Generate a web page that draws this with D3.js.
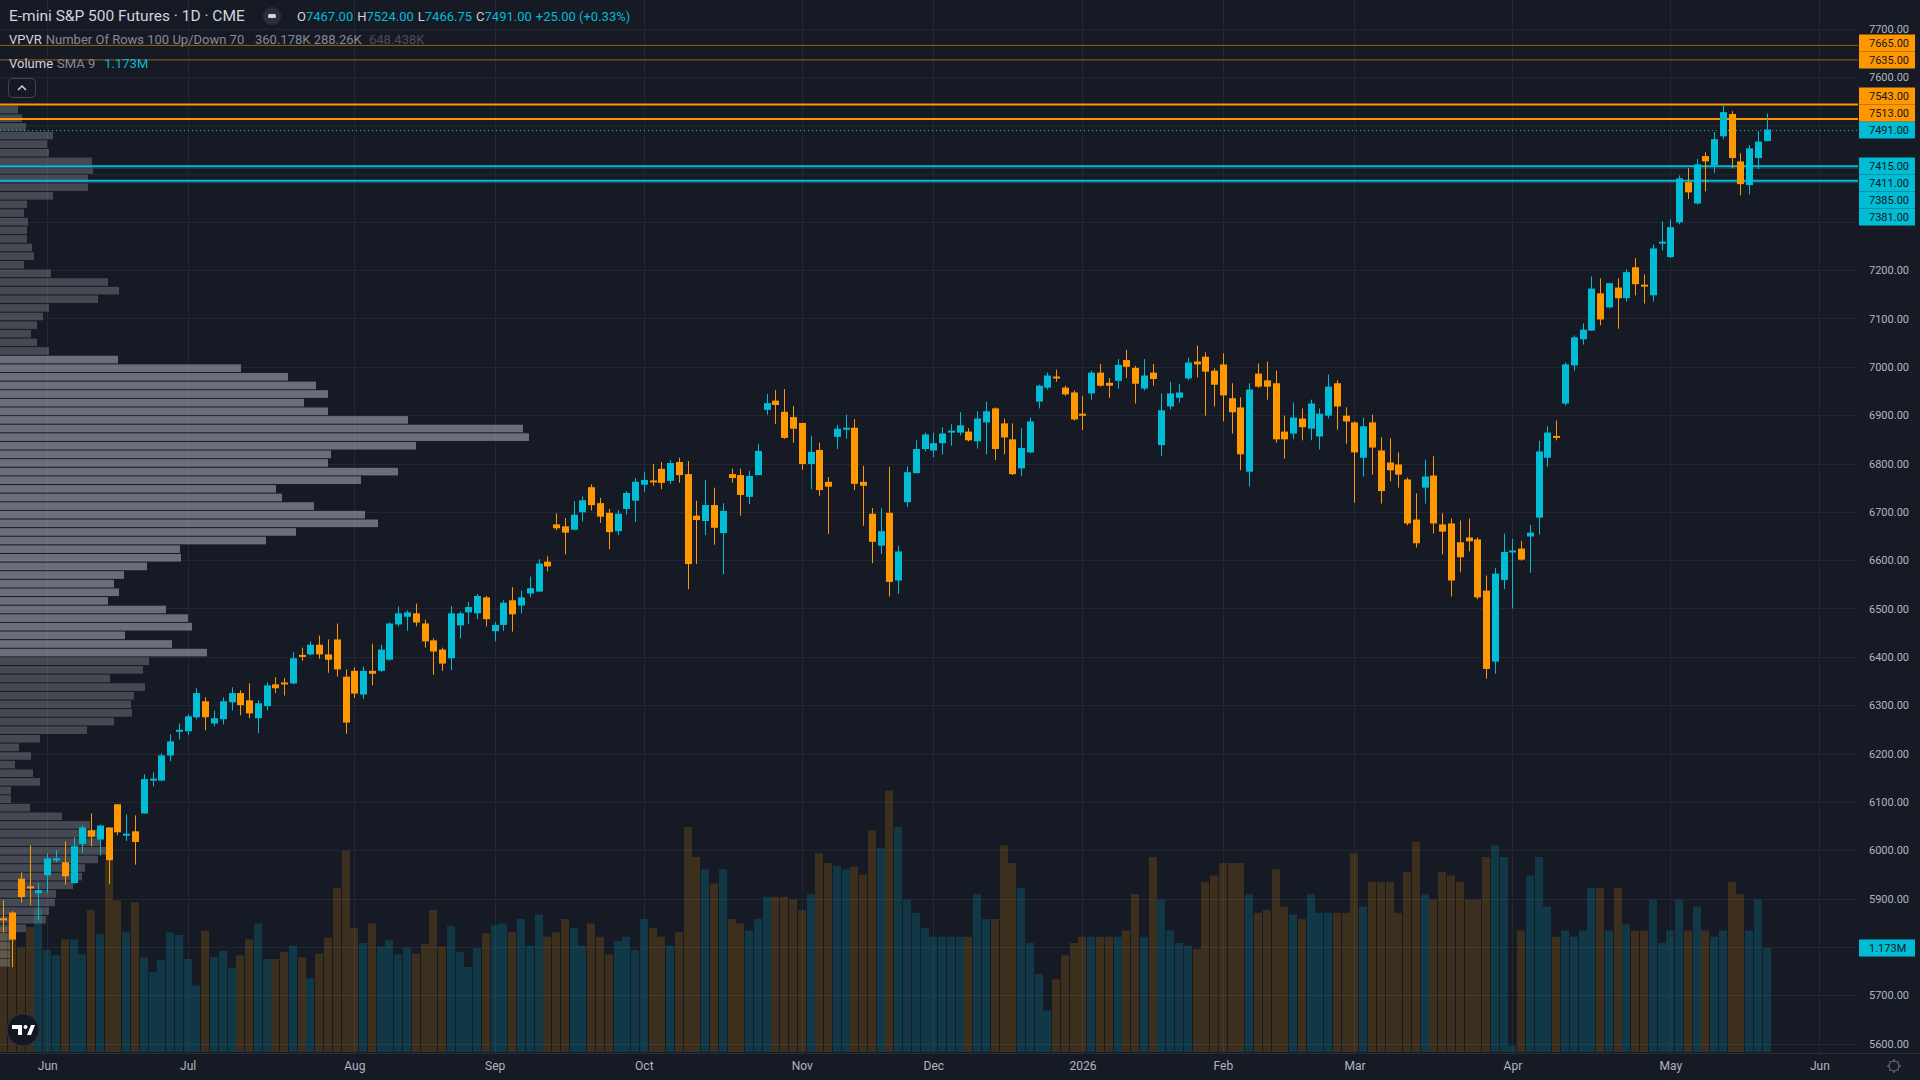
<!DOCTYPE html>
<html>
<head>
<meta charset="utf-8">
<script src="https://cdn.jsdelivr.net/npm/d3@7"></script>
<style>
html, body { margin: 0; padding: 0; background: #161a25; overflow: hidden; }
svg { display: block; }
text { font-family: Roboto, "Noto Sans", sans-serif; }
</style>
</head>
<body>
<div id="chart"></div>
<script>
// ---- data (daily bars, oldest first) ----
const opens = [5859,5871,5941,5925,5911,5948,5981,5975,5932,6013,6041,6022,6047,6095,6032,6039,6076,6146,6144,6196,6247,6246,6275,6308,6262,6271,6306,6325,6310,6273,6298,6343,6347,6345,6404,6405,6425,6405,6436,6359,6371,6322,6371,6371,6394,6467,6483,6490,6469,6434,6415,6397,6465,6492,6490,6523,6453,6466,6517,6506,6531,6535,6597,6674,6670,6663,6699,6751,6718,6698,6660,6706,6723,6756,6765,6789,6764,6803,6778,6692,6681,6714,6656,6778,6776,6731,6776,6911,6930,6907,6896,6884,6799,6828,6762,6855,6873,6874,6762,6696,6630,6698,6558,6720,6780,6830,6827,6842,6866,6864,6866,6846,6885,6914,6883,6850,6790,6823,6928,6957,6980,6957,6947,6903,6945,6988,6967,6971,7014,6998,6955,6988,6838,6918,6936,6976,7011,7021,6992,7005,6935,6916,6783,6986,6972,6966,6866,6862,6893,6872,6856,6899,6966,6899,6885,6812,6885,6827,6802,6798,6767,6684,6750,6775,6674,6676,6637,6647,6643,6537,6390,6559,6618,6624,6649,6688,6812,6857,6924,7003,7057,7075,7152,7123,7164,7142,7206,7170,7148,7257,7227,7299,7382,7338,7436,7417,7477,7523,7425,7376,7432,7467];
const highs = [5896,5874,5954,6010,5933,5993,6000,6018,6027,6051,6076,6053,6047,6095,6074,6072,6157,6161,6200,6240,6262,6281,6335,6316,6289,6316,6337,6331,6345,6310,6347,6358,6356,6410,6419,6432,6444,6436,6469,6374,6378,6380,6427,6425,6471,6504,6496,6510,6477,6438,6419,6505,6494,6514,6530,6526,6472,6517,6544,6537,6566,6602,6608,6697,6687,6722,6732,6757,6729,6706,6704,6743,6770,6783,6799,6803,6807,6812,6805,6723,6766,6750,6718,6789,6789,6785,6841,6944,6952,6954,6919,6884,6857,6843,6772,6880,6901,6892,6795,6708,6708,6793,6630,6794,6848,6864,6864,6875,6881,6906,6873,6908,6928,6916,6893,6883,6873,6895,6963,6988,6994,6961,6951,6940,6992,7006,6977,7016,7035,7002,7016,7006,6945,6969,6965,7019,7044,7030,6997,7028,6966,6937,6966,7007,7011,6992,6899,6926,6914,6932,6914,6984,6972,6916,6887,6895,6901,6854,6852,6823,6771,6738,6808,6815,6697,6686,6682,6686,6647,6568,6584,6655,6644,6640,6673,6847,6877,6889,7009,7065,7090,7187,7183,7173,7183,7202,7225,7191,7253,7301,7305,7396,7411,7430,7444,7486,7541,7529,7442,7459,7488,7524];
const lows = [5830,5758,5892,5886,5855,5911,5975,5929,5931,5994,6008,5989,5930,6031,6019,5970,6076,6132,6143,6184,6229,6238,6271,6248,6256,6260,6289,6279,6273,6242,6289,6325,6320,6343,6392,6403,6396,6367,6359,6241,6315,6313,6341,6369,6392,6463,6454,6463,6419,6363,6371,6372,6438,6468,6478,6463,6432,6454,6452,6490,6523,6535,6577,6662,6612,6663,6680,6703,6677,6623,6652,6694,6679,6741,6754,6747,6758,6760,6540,6592,6652,6632,6571,6760,6692,6716,6776,6901,6882,6851,6843,6787,6747,6733,6654,6830,6851,6745,6671,6594,6613,6525,6530,6710,6780,6825,6813,6819,6837,6858,6846,6831,6819,6807,6819,6776,6774,6821,6914,6953,6969,6940,6889,6869,6932,6959,6936,6955,6977,6924,6951,6961,6815,6912,6926,6972,6978,6899,6918,6887,6862,6786,6752,6957,6932,6843,6810,6850,6848,6848,6829,6893,6870,6841,6719,6773,6777,6717,6763,6750,6672,6626,6717,6655,6612,6525,6575,6618,6519,6355,6365,6540,6500,6599,6574,6653,6793,6848,6920,6992,7046,7075,7086,7121,7079,7135,7148,7131,7135,7241,7225,7295,7347,7336,7363,7401,7471,7411,7355,7357,7409,7466.75];
const closes = [5857,5815,5903,5923,5917,5983,5983,5946,6008,6047,6028,6051,5979,6037,6034,6017,6147,6148,6196,6225,6249,6277,6325,6275,6273,6308,6325,6300,6283,6304,6341,6335,6346,6397,6402,6425,6405,6394,6374,6264,6324,6371,6365,6415,6469,6490,6492,6471,6432,6411,6386,6490,6490,6503,6526,6478,6466,6512,6488,6523,6542,6593,6587,6666,6657,6694,6724,6714,6690,6658,6696,6739,6762,6766,6763,6760,6801,6776,6592,6683,6714,6667,6702,6770,6735,6774,6826,6925,6921,6853,6872,6799,6824,6745,6752,6872,6874,6758,6754,6638,6660,6555,6618,6782,6830,6860,6842,6862,6868,6879,6848,6893,6908,6830,6854,6778,6832,6887,6961,6982,6978,6943,6891,6901,6988,6961,6961,7004,7000,6965,6982,6975,6910,6945,6947,7009,7005,6990,6963,6941,6906,6819,6953,6959,6959,6850,6850,6895,6875,6924,6903,6959,6918,6887,6823,6877,6833,6743,6786,6777,6676,6635,6773,6676,6659,6558,6606,6639,6523,6375,6572,6617,6620,6601,6657,6825,6864,6855,7005,7061,7077,7162,7098,7173,7142,7196,7171,7169,7245,7259,7289,7390,7361,7419,7425,7471,7527,7432,7378,7452,7466,7491];
// volume in millions of contracts
const volumes = [1.41,1.50,1.18,1.41,1.62,1.15,1.09,1.27,1.27,1.10,1.60,1.33,2.15,1.71,1.35,1.69,1.07,0.90,1.04,1.35,1.32,1.05,0.75,1.37,1.07,1.14,0.95,1.09,1.27,1.45,1.05,1.05,1.13,1.20,1.07,0.83,1.11,1.29,1.85,2.27,1.40,1.23,1.45,1.19,1.26,1.10,1.18,1.11,1.22,1.60,1.19,1.42,1.13,0.96,1.17,1.34,1.43,
  1.45,1.35,1.5,1.2,1.55,1.3,
  1.35,1.5,1.4,1.2,1.45,1.3,1.1,1.25,1.3,1.15,1.5,1.4,1.3,1.2,1.35,
  2.54,2.2,2.06,1.9,2.06,
  1.5,1.45,1.37,1.5,1.75,1.75,1.75,1.72,1.6,
  1.78,2.24,2.13,2.1,2.06,2.09,2.0,2.5,2.3,2.95,2.54,
  1.72,1.57,1.4,1.3,1.3,1.3,1.3,1.3,1.78,1.5,1.5,2.33,2.13,1.85,1.23,
  0.88,0.47,0.82,1.09,1.23,1.3,1.3,1.3,1.3,1.3,1.37,1.78,1.3,2.2,1.72,1.37,1.23,
  1.2,1.16,1.92,1.99,2.13,2.13,2.13,1.78,1.57,1.6,2.06,1.64,1.55,1.5,1.78,1.57,1.57,1.57,1.57,
  2.24,1.64,1.92,1.92,1.92,1.57,2.03,2.37,1.78,1.72,2.03,1.99,1.92,1.72,1.72,2.2,2.33,2.2,0.07,
  1.37,1.99,2.2,1.64,1.3,1.37,1.3,1.37,1.85,1.85,1.37,1.85,1.44,1.37,1.37,1.72,1.23,1.37,1.72,1.37,1.64,1.37,1.3,1.37,1.92,1.78,1.37,1.72,1.173];
// visible-range volume profile, 100 rows from the highest price down (relative volume)
const profileVol = [18,22,26,53,47,49,92,93,88,88,53,27,24,28,27,27,32,34,24,51,108,119,98,49,43,37,31,37,49,118,241,288,316,328,304,328,408,523,529,416,331,328,398,361,276,282,314,365,378,296,266,180,181,147,124,114,119,108,166,188,192,125,172,207,149,143,110,145,134,131,132,114,87,40,19,31,15,33,40,11,11,30,62,90,97,100,106,98,85,82,73,56,55,49,46,26,10,10,10,10];
const monthLabels = ["Jun","Jul","Aug","Sep","Oct","Nov","Dec","2026","Feb","Mar","Apr","May","Jun"];
const monthBars = [5,21,40,56,73,91,106,123,139,154,172,190,207];
const outerResistance = [7665, 7635];
const resistance = [7543, 7513];
const support = [7415, 7385];
const innerSupport = [7411, 7381];
const lastPrice = 7491;
const priceTicks = d3.range(5600, 7701, 100);

// ---- layout ----
const W = 1920, H = 1080;
const plotRight = 1858, plotBottom = 1053;
const upColor = "#00bcd4", downColor = "#ff9800";
const bars = opens.map((o, i) => ({i, o, h: highs[i], l: lows[i], c: closes[i], v: volumes[i]}));

const x = d3.scaleLinear().domain([0, bars.length - 1]).range([3.4, 1766.8]);
const y = d3.scaleLinear().domain([5600, 7700]).range([1043.5, 28.5]);
const yVol = d3.scaleLinear().domain([0, 1.173]).range([1052, 948]);

const svg = d3.select("#chart").append("svg")
    .attr("width", W)
    .attr("height", H);

svg.append("rect").attr("width", W).attr("height", H).attr("fill", "#161a25");

svg.append("clipPath").attr("id", "plot-clip")
  .append("rect").attr("width", plotRight).attr("height", plotBottom);

const plot = svg.append("g").attr("clip-path", "url(#plot-clip)");

// grid
plot.append("g").selectAll("line")
    .data(priceTicks)
    .join("line")
    .attr("x1", 0).attr("x2", plotRight)
    .attr("y1", d => Math.round(y(d)) + 0.5).attr("y2", d => Math.round(y(d)) + 0.5)
    .attr("stroke", "#232733");

plot.append("g").selectAll("line")
    .data(monthBars)
    .join("line")
    .attr("x1", d => Math.round(x(d)) + 0.5).attr("x2", d => Math.round(x(d)) + 0.5)
    .attr("y1", 0).attr("y2", plotBottom)
    .attr("stroke", "#232733");

// volume
const isUp = d => d.c >= d.o;
plot.append("g").selectAll("rect")
    .data(bars)
    .join("rect")
    .attr("x", d => Math.round(x(d.i)) - 4)
    .attr("width", 8)
    .attr("y", d => yVol(d.v))
    .attr("height", d => yVol(0) - yVol(d.v))
    .attr("fill", d => isUp(d) ? upColor : downColor)
    .attr("fill-opacity", d => isUp(d) ? 0.19 : 0.17);

// volume profile (visible range)
const pHigh = d3.max(highs), pLow = d3.min(lows);
const rowSize = (pHigh - pLow) / profileVol.length;
const poc = d3.maxIndex(profileVol);
const total = d3.sum(profileVol);
let vaTop = poc, vaBot = poc, vaSum = profileVol[poc];
while (vaSum < total * 0.7) {
    const up = vaTop > 0 ? profileVol[vaTop - 1] : -1;
    const dn = vaBot < profileVol.length - 1 ? profileVol[vaBot + 1] : -1;
    if (up >= dn) { vaTop--; vaSum += up; } else { vaBot++; vaSum += dn; }
}
const profW = d3.scaleLinear().domain([0, d3.max(profileVol)]).range([0, 529]);
plot.append("g").selectAll("rect")
    .data(profileVol)
    .join("rect")
    .attr("x", 0)
    .attr("y", (d, k) => y(pHigh - k * rowSize) + 0.5)
    .attr("width", d => profW(d))
    .attr("height", (d, k) => y(pHigh - (k + 1) * rowSize) - y(pHigh - k * rowSize) - 1)
    .attr("fill", "#b2b5be")
    .attr("fill-opacity", (d, k) => k >= vaTop && k <= vaBot ? 0.55 : 0.3);

// horizontal levels
const hline = (p, color, width, opacity) => plot.append("line")
    .attr("x1", 0).attr("x2", plotRight)
    .attr("y1", y(p)).attr("y2", y(p))
    .attr("stroke", color).attr("stroke-width", width).attr("stroke-opacity", opacity);
outerResistance.forEach(p => hline(p, downColor, 1, 0.55));
resistance.forEach(p => hline(p, downColor, 2, 1));
innerSupport.forEach(p => hline(p, "#3a3f4b", 1, 1));
support.forEach(p => hline(p, upColor, 2, 1));

// candles
const candles = plot.append("g").selectAll("g")
    .data(bars)
    .join("g")
    .attr("fill", d => isUp(d) ? upColor : downColor)
    .attr("stroke", d => isUp(d) ? upColor : downColor);

candles.append("line")
    .attr("x1", d => Math.round(x(d.i)) + 0.5).attr("x2", d => Math.round(x(d.i)) + 0.5)
    .attr("y1", d => y(d.h)).attr("y2", d => y(d.l))
    .attr("stroke-width", 1);

candles.append("rect")
    .attr("stroke", "none")
    .attr("x", d => Math.round(x(d.i)) - 3)
    .attr("width", 7)
    .attr("y", d => Math.min(y(d.o), y(d.c)))
    .attr("height", d => Math.max(2, Math.abs(y(d.o) - y(d.c))));

// last price dotted line
plot.append("line")
    .attr("x1", 0).attr("x2", plotRight)
    .attr("y1", Math.round(y(lastPrice)) + 0.5).attr("y2", Math.round(y(lastPrice)) + 0.5)
    .attr("stroke", upColor).attr("stroke-dasharray", "1,3");

// time axis separator
svg.append("line")
    .attr("x1", 0).attr("x2", W)
    .attr("y1", plotBottom + 0.5).attr("y2", plotBottom + 0.5)
    .attr("stroke", "#2a2e39");

// price labels on the axis, stacked around the last price
const labelH = 17;
const labels = [{p: lastPrice, color: upColor, y: y(lastPrice)}];
let prevY = y(lastPrice);
resistance.concat(outerResistance).sort((a, b) => a - b).forEach(p => {
    prevY = Math.min(y(p), prevY - labelH);
    labels.push({p, color: downColor, y: prevY});
});
prevY = y(lastPrice);
support.concat(innerSupport).sort((a, b) => b - a).forEach(p => {
    prevY = Math.max(y(p), prevY + labelH);
    labels.push({p, color: upColor, y: prevY});
});
const lastVol = volumes[volumes.length - 1];
labels.push({p: null, text: d3.format(".3f")(lastVol) + "M", color: upColor, y: yVol(lastVol)});

// price axis (ticks hidden where a label box sits on top)
const freeTicks = priceTicks.filter(t => labels.every(l => Math.abs(y(t) - l.y) > 12.5));
const yAxis = d3.axisRight(y)
    .tickValues(freeTicks)
    .tickFormat(d3.format(".2f"))
    .tickSize(0)
    .tickPadding(0);
svg.append("g")
    .attr("transform", `translate(1869,0)`)
    .call(yAxis)
    .call(g => g.select(".domain").remove())
    .selectAll("text")
    .attr("fill", "#b2b5be")
    .style("font-size", "11px")
    .style("font-family", "Roboto, sans-serif");

// time axis
const xAxis = d3.axisBottom(x)
    .tickValues(monthBars)
    .tickFormat((d, i) => monthLabels[i])
    .tickSize(0)
    .tickPadding(0);
svg.append("g")
    .attr("transform", `translate(0,1061)`)
    .call(xAxis)
    .call(g => g.select(".domain").remove())
    .selectAll("text")
    .attr("fill", "#b2b5be")
    .style("font-size", "12px")
    .style("font-family", "Roboto, sans-serif");

const lab = svg.append("g").selectAll("g")
    .data(labels)
    .join("g")
    .attr("transform", d => `translate(1859,${Math.round(d.y)})`);
lab.append("rect")
    .attr("x", 0).attr("y", -labelH / 2)
    .attr("width", 56).attr("height", labelH)
    .attr("fill", d => d.color);
lab.append("text")
    .attr("x", 10).attr("dy", "0.35em")
    .attr("fill", "#131722")
    .style("font-size", "11px")
    .text(d => d.p === null ? d.text : d3.format(".2f")(d.p));

// legend
const last = bars[bars.length - 1];
const prev = bars[bars.length - 2];
const chg = last.c - prev.c;
const legend = svg.append("g");
legend.append("text")
    .attr("x", 9).attr("y", 21)
    .attr("fill", "#d1d4dc")
    .style("font-size", "15.5px")
    .text("E-mini S&P 500 Futures · 1D · CME");

legend.append("circle").attr("cx", 272).attr("cy", 16).attr("r", 9).attr("fill", "#2a2e39");
legend.append("rect").attr("x", 268).attr("y", 14).attr("width", 8).attr("height", 4).attr("rx", 1.5).attr("fill", "#d1d4dc");

const ohlc = legend.append("text")
    .attr("x", 297).attr("y", 21)
    .style("font-size", "13px");
[["O", last.o], ["H", last.h], ["L", last.l], ["C", last.c]].forEach(([k, v], j) => {
    ohlc.append("tspan").attr("fill", "#d1d4dc").attr("dx", j ? 4 : 0).text(k);
    ohlc.append("tspan").attr("fill", upColor).text(d3.format(".2f")(v));
});
ohlc.append("tspan").attr("fill", upColor).attr("dx", 4)
    .text(`${d3.format("+.2f")(chg)} (${d3.format("+.2%")(chg / prev.c)})`);

const vp = legend.append("text").attr("x", 9).attr("y", 44).style("font-size", "13px");
vp.append("tspan").attr("fill", "#d1d4dc").text("VPVR");
vp.append("tspan").attr("fill", "#868993").attr("dx", 4).text("Number Of Rows 100 Up/Down 70");
legend.append("text").attr("x", 255).attr("y", 44).style("font-size", "13px")
    .attr("fill", "#868993").text("360.178K 288.26K");
legend.append("text").attr("x", 369).attr("y", 44).style("font-size", "13px")
    .attr("fill", "#4a4d57").text("648.438K");

const vl = legend.append("text").attr("x", 9).attr("y", 68).style("font-size", "13px");
vl.append("tspan").attr("fill", "#d1d4dc").text("Volume");
vl.append("tspan").attr("fill", "#868993").attr("dx", 4).text("SMA 9");
vl.append("tspan").attr("fill", upColor).attr("dx", 9).text(d3.format(".3f")(last.v) + "M");

legend.append("rect")
    .attr("x", 8.5).attr("y", 78.5).attr("width", 27).attr("height", 19).attr("rx", 4)
    .attr("fill", "none").attr("stroke", "#434651");
legend.append("path")
    .attr("d", "M18,90 L22,86 L26,90")
    .attr("fill", "none").attr("stroke", "#d1d4dc").attr("stroke-width", 1.5);

// logo
const logo = svg.append("g").attr("transform", "translate(23,1030)");
logo.append("circle").attr("r", 16).attr("fill", "#131722").attr("stroke", "#2a2e39").attr("stroke-width", 1.5);
logo.append("path").attr("d", "M-11,-5 H-1 V5 H-5 V-1 H-11 Z M4,5 L8,-5 H12 L8,5 Z").attr("fill", "#ffffff");
logo.append("circle").attr("cx", 2.5).attr("cy", -3).attr("r", 2).attr("fill", "#ffffff");

// settings gear
const gear = svg.append("g").attr("transform", "translate(1894,1066)")
    .attr("fill", "none").attr("stroke", "#787b86");
gear.append("circle").attr("r", 5);
gear.selectAll("line").data(d3.range(8)).join("line")
    .attr("x1", d => 5 * Math.cos(d * Math.PI / 4)).attr("y1", d => 5 * Math.sin(d * Math.PI / 4))
    .attr("x2", d => 7 * Math.cos(d * Math.PI / 4)).attr("y2", d => 7 * Math.sin(d * Math.PI / 4));
</script>
</body>
</html>
